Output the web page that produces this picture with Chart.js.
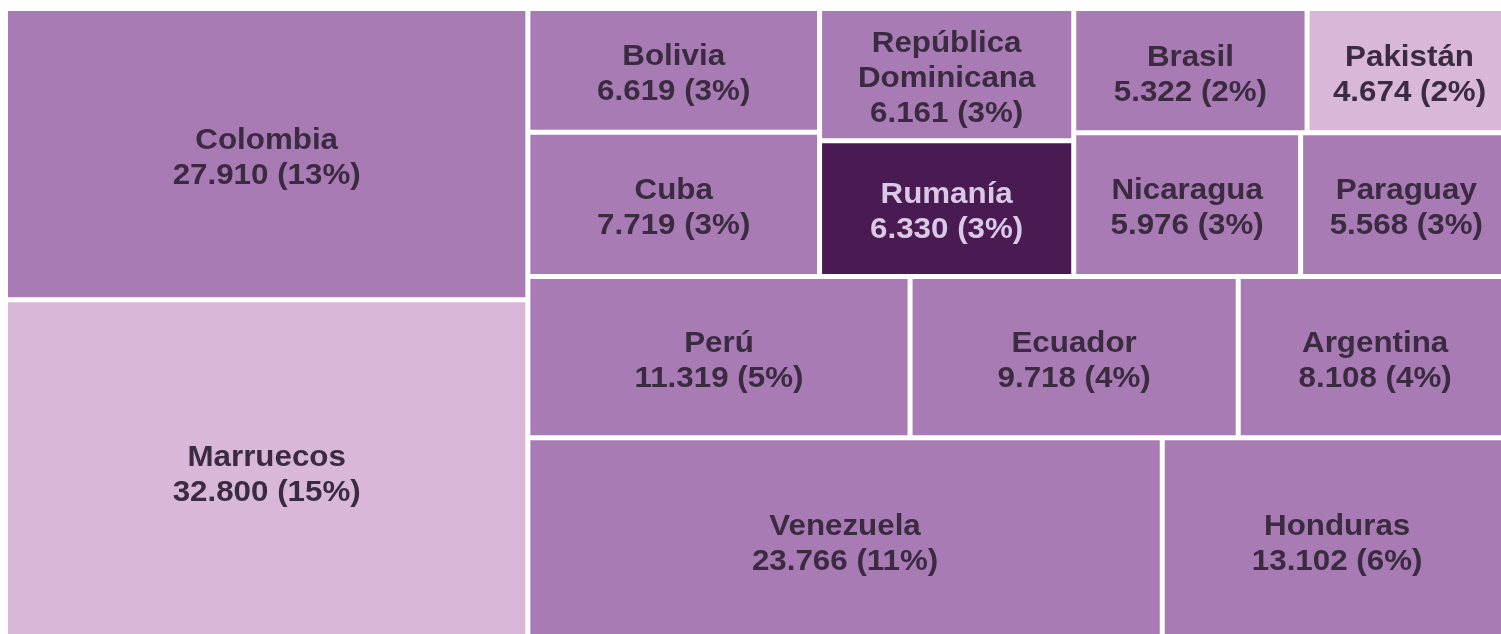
<!DOCTYPE html>
<html>
<head>
<meta charset="utf-8">
<title>Treemap</title>
<script src="https://cdn.jsdelivr.net/npm/chart.js@4.4.1/dist/chart.umd.min.js"></script>
<style>
    html, body { margin: 0; padding: 0; background: #fff; overflow: hidden; }
    #wrap { position: absolute; left: 0; top: 0; width: 1512px; height: 642px; }
</style>
</head>
<body>
<div id="wrap"><canvas id="treemapChart"></canvas></div>
<script>
// Data
const countries = ['Marruecos', 'Colombia', 'Venezuela', 'Honduras', 'Perú', 'Ecuador', 'Argentina',
    'Cuba', 'Bolivia', 'Rumanía', 'República Dominicana', 'Nicaragua', 'Paraguay', 'Brasil', 'Pakistán'];
const residents = [32800, 27910, 23766, 13102, 11319, 9718, 8108, 7719, 6619, 6330, 6161, 5976, 5568, 5322, 4674];
const shares = [15, 13, 11, 6, 5, 4, 4, 3, 3, 3, 3, 3, 3, 2, 2];

// Colours
const MID = '#a87bb4';
const LIGHT = '#d9b7d9';
const DARK = '#4a1a53';
const cellColors = [LIGHT, MID, MID, MID, MID, MID, MID, MID, MID, DARK, MID, MID, MID, MID, LIGHT];
const labelColors = cellColors.map(c => c === DARK ? '#d9c8e6' : '#3b2b41');

const FONT_SIZE = 29;
const LINE_HEIGHT = 35;
const TEXT_STRETCH = 1.08;

// Squarified layout in a 100 x 100 value space, filled from the bottom-left corner
function worstRatio(row, side) {
    const s = row.reduce((a, b) => a + b, 0);
    const max = Math.max(...row), min = Math.min(...row);
    return Math.max(side * side * max / (s * s), (s * s) / (side * side * min));
}

function squarify(values, x, y, w, h) {
    const order = values.map((v, i) => i).sort((a, b) => values[b] - values[a]);
    const total = values.reduce((a, b) => a + b, 0);
    const areas = order.map(i => values[i] * w * h / total);
    const cells = new Array(values.length);
    let i = 0;
    while (i < areas.length) {
        const side = Math.min(w, h);
        const row = [areas[i]];
        let j = i + 1;
        while (j < areas.length && worstRatio(row.concat(areas[j]), side) <= worstRatio(row, side)) {
            row.push(areas[j]);
            j++;
        }
        const s = row.reduce((a, b) => a + b, 0);
        if (w >= h) {
            // column on the left
            const thick = s / h;
            let yy = y;
            row.forEach((a, k) => {
                const hh = a / thick;
                cells[order[i + k]] = { x0: x, x1: x + thick, y0: yy, y1: yy + hh };
                yy += hh;
            });
            x += thick; w -= thick;
        } else {
            // row at the bottom
            const thick = s / w;
            let xx = x;
            row.forEach((a, k) => {
                const ww = a / thick;
                cells[order[i + k]] = { x0: xx, x1: xx + ww, y0: y, y1: y + thick };
                xx += ww;
            });
            y += thick; h -= thick;
        }
        i = j;
    }
    return cells;
}

function formatNumber(v) {
    return String(v).replace(/\B(?=(\d{3})+(?!\d))/g, '.');
}

function wrapWords(ctx, text, maxWidth) {
    const words = text.split(' ');
    const lines = [];
    let line = '';
    words.forEach(word => {
        const test = line ? line + ' ' + word : word;
        if (line && ctx.measureText(test).width * TEXT_STRETCH > maxWidth) {
            lines.push(line);
            line = word;
        } else {
            line = test;
        }
    });
    if (line) lines.push(line);
    return lines;
}

// Treemap controller: cells are bar elements placed on linear x / y scales
class TreemapController extends Chart.DatasetController {
    update(mode) {
        const meta = this._cachedMeta;
        this.updateElements(meta.data, 0, meta.data.length, mode);
    }

    updateElements(rects, start, count, mode) {
        const meta = this._cachedMeta;
        const xScale = meta.xScale;
        const yScale = meta.yScale;
        const cells = squarify(this.getDataset().data, 0, 0, 100, 100);
        for (let i = start; i < start + count; i++) {
            const c = cells[i];
            const left = xScale.getPixelForValue(c.x0);
            const right = xScale.getPixelForValue(c.x1);
            const top = yScale.getPixelForValue(c.y1);
            const bottom = yScale.getPixelForValue(c.y0);
            this.updateElement(rects[i], i, {
                x: (left + right) / 2,
                y: top,
                base: bottom,
                width: right - left,
                height: bottom - top,
                horizontal: false,
                inflateAmount: 0,
                borderSkipped: {},
                options: this.resolveDataElementOptions(i, mode)
            }, mode);
        }
    }

    draw() {
        const meta = this._cachedMeta;
        const ctx = this.chart.ctx;
        const dataset = this.getDataset();
        meta.data.forEach(rect => rect.draw(ctx));

        ctx.save();
        ctx.font = 'bold ' + FONT_SIZE + 'px "Liberation Sans", Arial, sans-serif';
        ctx.textAlign = 'center';
        ctx.textBaseline = 'alphabetic';
        meta.data.forEach((rect, i) => {
            const lines = wrapWords(ctx, this.chart.data.labels[i], rect.width - 16);
            lines.push(formatNumber(dataset.data[i]) + ' (' + dataset.shares[i] + '%)');
            const cy = (rect.y + rect.base) / 2 + 2;
            const firstCenter = cy - (lines.length - 1) * LINE_HEIGHT / 2;
            ctx.fillStyle = dataset.labelColors[i];
            lines.forEach((line, k) => {
                const baseline = firstCenter + k * LINE_HEIGHT + FONT_SIZE * 0.716 / 2;
                ctx.save();
                ctx.translate(rect.x, baseline);
                ctx.scale(TEXT_STRETCH, 1);
                ctx.fillText(line, 0, 0);
                ctx.restore();
            });
        });
        ctx.restore();
    }
}
TreemapController.id = 'treemap';
TreemapController.defaults = { datasetElementType: false, dataElementType: 'bar' };
Chart.register(TreemapController);

new Chart(document.getElementById('treemapChart'), {
    type: 'treemap',
    data: {
        labels: countries,
        datasets: [{
            data: residents,
            shares: shares,
            labelColors: labelColors,
            backgroundColor: cellColors,
            borderColor: '#ffffff',
            borderWidth: 2.5,
            borderSkipped: false
        }]
    },
    options: {
        responsive: true,
        maintainAspectRatio: false,
        animation: false,
        events: [],
        layout: { padding: { left: 5.5, top: 8.5, right: 0, bottom: 0 } },
        scales: {
            x: { type: 'linear', min: 0, max: 100, display: false },
            y: { type: 'linear', min: 0, max: 100, display: false }
        },
        plugins: {
            legend: { display: false },
            tooltip: { enabled: false }
        }
    }
});
</script>
</body>
</html>
